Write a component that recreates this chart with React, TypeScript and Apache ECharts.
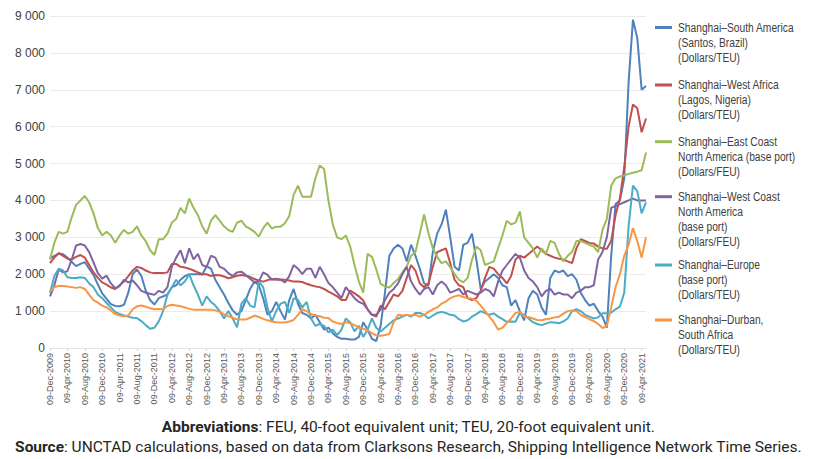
import React, { useEffect, useRef } from "react";
import * as echarts from "echarts";

const MONTHS = ["Jan", "Feb", "Mar", "Apr", "May", "Jun", "Jul", "Aug", "Sep", "Oct", "Nov", "Dec"];
// monthly categories from Dec-2009 to May-2021
const CATEGORIES: string[] = [];
for (let i = 0; i < 138; i++) {
  const mi = (11 + i) % 12;
  const yr = 2009 + Math.floor((11 + i) / 12);
  CATEGORIES.push(`09-${MONTHS[mi]}-${yr}`);
}

const SERIES_NAMES = [
  "Shanghai–South America\n(Santos, Brazil)\n(Dollars/TEU)",
  "Shanghai–West Africa\n(Lagos, Nigeria)\n(Dollars/TEU)",
  "Shanghai–East Coast\nNorth America (base port)\n(Dollars/FEU)",
  "Shanghai–West Coast\nNorth America\n(base port)\n(Dollars/FEU)",
  "Shanghai–Europe\n(base port)\n(Dollars/TEU)",
  "Shanghai–Durban,\nSouth Africa\n(Dollars/TEU)",
];

const SOUTH_AMERICA = [
  2430, 2500, 2560, 2540, 2450, 2330, 2220, 2280, 2330, 2150, 1980, 1720, 1480, 1330, 1190, 1140, 1130, 1170, 1500, 2000, 2130, 1950, 1560, 1300, 1180, 1350, 1400, 1450, 1650, 1700, 1850, 1950, 2000, 2000, 2000, 1990,
  2210, 2150, 1850, 1650, 1450, 1220, 1020, 900, 1000, 1300, 1600, 1800, 1700, 1350, 900, 1000, 1250, 1000, 770, 1300, 1600, 1200, 950, 900, 800, 900, 700, 500, 550, 400, 300, 250,
  250, 230, 230, 300, 700, 500, 250, 190, 600, 1500, 2500, 2700, 2800, 2700, 2350, 2800, 2500, 2150, 1750, 1700, 2600, 3100, 3350, 3750, 3000, 2200, 2100, 2800, 2850, 3100, 2400, 1600, 1800, 1900,
  2000, 1900, 1700, 1650, 1150, 1300, 1000, 750, 1350, 1550, 1450, 1100, 900, 1900, 2100, 2050, 2100, 1950, 2000, 1850, 1500, 1300, 1150, 1200, 1000, 850, 550, 2500, 3900, 4000, 4600, 7200, 8900, 8400, 7000, 7100,
];

const WEST_AFRICA = [
  2300, 2450, 2570, 2500, 2420, 2400, 2470, 2520, 2450, 2250, 2050, 1900, 1780, 1720, 1640, 1600, 1700, 1800, 1950, 2100, 2200, 2170, 2100, 2050, 2030, 2030, 2030, 2050, 2280, 2280, 2200, 2180, 2150, 2100, 2050, 2000,
  2000, 1950, 1980, 1970, 1940, 1890, 1920, 1960, 1980, 1960, 1930, 1870, 1830, 1800, 1840, 1870, 1850, 1860, 1850, 1830, 1800, 1800, 1790, 1740, 1700, 1670, 1650, 1600, 1530, 1470, 1400, 1300,
  1300, 1560, 1480, 1400, 1290, 1050, 900, 850, 1150, 1050, 1250, 1450, 1400, 1550, 1900, 2250, 2100, 1750, 1650, 1750, 2200, 2600, 2650, 2700, 2300, 1850, 1700, 1650, 1350, 1300, 1350, 1550, 1900, 2200,
  2150, 2000, 1900, 1750, 1950, 2400, 2500, 2450, 2550, 2650, 2750, 2650, 2550, 2500, 2450, 2420, 2400, 2350, 2300, 2700, 2950, 2900, 2850, 2830, 2750, 2700, 2690, 2900, 3600, 4050, 4900, 6000, 6600, 6500, 5850, 6220,
];

const EAST_COAST_NA = [
  2400, 2850, 3150, 3100, 3150, 3550, 3880, 4000, 4120, 3950, 3650, 3250, 3050, 3150, 3050, 2850, 3050, 3200, 3100, 3150, 3300, 3050, 2900, 2650, 2520, 2950, 2950, 3100, 3400, 3500, 3800, 3650, 4050, 3800, 3600, 3300,
  3100, 3450, 3600, 3450, 3300, 3200, 3150, 3400, 3450, 3300, 3230, 3150, 3020, 3250, 3400, 3240, 3290, 3290, 3380, 3580, 4150, 4400, 4100, 4100, 4100, 4600, 4950, 4850, 4000, 3350, 3000, 2950,
  3050, 2750, 2250, 1800, 1500, 2550, 2470, 2130, 1740, 1670, 1640, 1760, 1870, 2050, 2210, 2500, 2600, 3100, 3620, 3110, 2700, 2470, 2300, 2350, 2190, 2000, 1850, 1780, 1900, 2390, 2750, 2650, 2250, 2300,
  2350, 2700, 3050, 3450, 3350, 3400, 3700, 3000, 2850, 2700, 2450, 2700, 2550, 2900, 2850, 2550, 2350, 2500, 2600, 2900, 2900, 2850, 2800, 2750, 2600, 3200, 3500, 4400, 4600, 4650, 4680, 4720, 4750, 4780, 4820, 5300,
];

const WEST_COAST_NA = [
  1400, 1700, 2130, 2050, 2080, 2400, 2780, 2820, 2780, 2600, 2320, 2030, 1880, 1960, 1750, 1620, 1680, 1850, 1780, 1830, 1700, 1550, 1500, 1470, 1440, 1550, 1500, 1650, 2200, 2450, 2650, 2300, 2700, 2400, 2550, 2250,
  2200, 2500, 2450, 2200, 2150, 2030, 1950, 2050, 2070, 1980, 1880, 1780, 1800, 2050, 1980, 1850, 1880, 1850, 1780, 1950, 2250, 2150, 2000, 2150, 2150, 1900, 2200, 2000, 1760, 1650, 1500, 1350,
  1650, 1500, 1350, 1250, 1200, 1050, 900, 900, 1050, 1300, 1500, 1600, 1750, 2000, 2200, 1800, 1600, 1450, 1600, 1650, 1450, 1700, 1800, 1700, 1500, 1550, 1600, 1450, 1550, 1500, 1450, 1500, 1600, 1550,
  1400, 1800, 2100, 2250, 2400, 2550, 2450, 2100, 1900, 1800, 1650, 1400, 1550, 1600, 1450, 1500, 1450, 1450, 1350, 1500, 1550, 1650, 1650, 1700, 2400, 2600, 3000, 3800, 3850, 3900, 3950, 4000, 4050, 4000, 4000, 4000,
];

const EUROPE = [
  1490, 1950, 2150, 2100, 1920, 1900, 1900, 1920, 1900, 1750, 1650, 1450, 1350, 1220, 1100, 980, 920, 880, 850, 820, 810, 730, 620, 520, 550, 720, 1000, 1450, 1650, 1850, 1700, 1800, 2000, 1700, 1450, 1150,
  1400, 1250, 1150, 1000, 800, 1000, 800, 560, 1200, 1350, 1150, 1100, 1800, 1650, 1100, 720, 1000, 1200, 1250, 950, 1350, 1300, 1100, 1250, 800, 600, 650, 600, 420, 500, 350, 500,
  800, 700, 450, 600, 300, 500, 800, 550, 450, 550, 650, 750, 800, 850, 900, 850, 950, 950, 900, 800, 880, 950, 980, 950, 900, 880, 780, 720, 750, 850, 920, 1000, 950, 900,
  940, 850, 780, 710, 720, 710, 950, 900, 800, 700, 650, 620, 660, 700, 690, 670, 720, 800, 1000, 1050, 1000, 900, 850, 800, 830, 940, 940, 960, 1050, 1120, 1500, 3300, 4400, 4250, 3650, 3950,
];

const DURBAN = [
  1530, 1650, 1680, 1680, 1670, 1650, 1630, 1650, 1600, 1450, 1300, 1230, 1150, 1100, 1020, 920, 880, 860, 880, 1050, 1130, 1150, 1120, 1080, 1050, 1060, 1050, 1140, 1170, 1150, 1130, 1100, 1060, 1040, 1040, 1040,
  1040, 1040, 1020, 980, 920, 860, 820, 780, 770, 770, 820, 880, 840, 790, 750, 720, 700, 690, 690, 720, 760, 900, 1050, 1000, 920, 880, 860, 820, 810, 720, 680, 650,
  700, 670, 620, 560, 520, 480, 400, 340, 330, 350, 380, 700, 900, 880, 900, 880, 900, 850, 900, 980, 1050, 1100, 1200, 1260, 1350, 1400, 1430, 1380, 1350, 1340, 1280, 1150, 1000, 850,
  700, 500, 550, 680, 800, 950, 980, 850, 840, 800, 760, 750, 780, 800, 830, 850, 930, 1000, 1020, 1000, 900, 840, 780, 730, 650, 540, 600, 1100, 1650, 2000, 2500, 2800, 3250, 2900, 2450, 3000,
];

const SERIES_DATA = [SOUTH_AMERICA, WEST_AFRICA, EAST_COAST_NA, WEST_COAST_NA, EUROPE, DURBAN];
const COLORS = ["#4F81BD", "#C0504D", "#9BBB59", "#8064A2", "#4BACC6", "#F79646"];

const ABBREVIATIONS = "FEU, 40-foot equivalent unit; TEU, 20-foot equivalent unit.";
const SOURCE = "UNCTAD calculations, based on data from Clarksons Research, Shipping Intelligence Network Time Series.";

const ARIAL = "'Liberation Sans', Arial, sans-serif";

const LEGEND_Y = [27.5, 85, 141.7, 196.7, 265, 320];

export default function App() {
  const ref = useRef<HTMLDivElement>(null);
  useEffect(() => {
    if (!ref.current) return;
    const chart = echarts.init(ref.current, null, { renderer: "svg" });
    const legendGraphics: any[] = [];
    SERIES_NAMES.forEach((name, i) => {
      const yc = LEGEND_Y[i];
      legendGraphics.push({
        type: "line",
        shape: { x1: 655, y1: yc, x2: 672, y2: yc },
        style: { stroke: COLORS[i], lineWidth: 3 },
      });
      legendGraphics.push({
        type: "text",
        x: 678,
        y: yc - 7.5,
        scaleX: 0.82,
        style: {
          text: name,
          fontSize: 12.5,
          lineHeight: 15,
          fontFamily: ARIAL,
          fill: "#404040",
          verticalAlign: "top",
          align: "left",
        },
      });
    });
    const footerRich = { b: { fontWeight: "bold", fontSize: 15.5, fontFamily: "Roboto, sans-serif", fill: "#262626" } };
    chart.setOption({
      animation: false,
      backgroundColor: "#ffffff",
      grid: { left: 50, right: 171, top: 16, bottom: 111, containLabel: false },
      xAxis: {
        type: "category",
        boundaryGap: false,
        data: CATEGORIES,
        axisLine: { show: true, lineStyle: { color: "#e3e3e3", width: 1 } },
        axisTick: { show: true, interval: 3, length: 3, lineStyle: { color: "#d9d9d9" } },
        axisLabel: {
          interval: 3,
          rotate: 90,
          fontSize: 9,
          fontFamily: ARIAL,
          color: "#595959",
          margin: 5,
        },
        splitLine: { show: false },
      },
      yAxis: {
        type: "value",
        min: 0,
        max: 9000,
        interval: 1000,
        axisLine: { show: false },
        axisTick: { show: false },
        axisLabel: {
          fontSize: 12,
          fontFamily: ARIAL,
          color: "#404040",
          margin: 5,
          formatter: (v: number) => String(v).replace(/\B(?=(\d{3})+(?!\d))/g, " "),
        },
        splitLine: { lineStyle: { color: "#ebebeb", width: 1 } },
      },
      series: SERIES_DATA.map((d, i) => ({
        type: "line",
        name: SERIES_NAMES[i],
        data: d,
        showSymbol: false,
        symbol: "none",
        lineStyle: { color: COLORS[i], width: 2 },
        itemStyle: { color: COLORS[i] },
        z: 2,
      })),
      graphic: [
        ...legendGraphics,
        {
          type: "text",
          left: "center",
          top: 419,
          style: {
            text: `{b|Abbreviations}: ${ABBREVIATIONS}`,
            fontSize: 15.5,
            fontFamily: "Roboto, sans-serif",
            fill: "#262626",
            rich: footerRich,
          },
        },
        {
          type: "text",
          left: "center",
          top: 439,
          style: {
            text: `{b|Source}: ${SOURCE}`,
            fontSize: 15.5,
            fontFamily: "Roboto, sans-serif",
            fill: "#262626",
            rich: footerRich,
          },
        },
      ],
    });
    return () => chart.dispose();
  }, []);
  return (
    <div
      ref={ref}
      style={{ position: "fixed", left: 0, top: 0, width: 817, height: 459, background: "#fff" }}
    />
  );
}
